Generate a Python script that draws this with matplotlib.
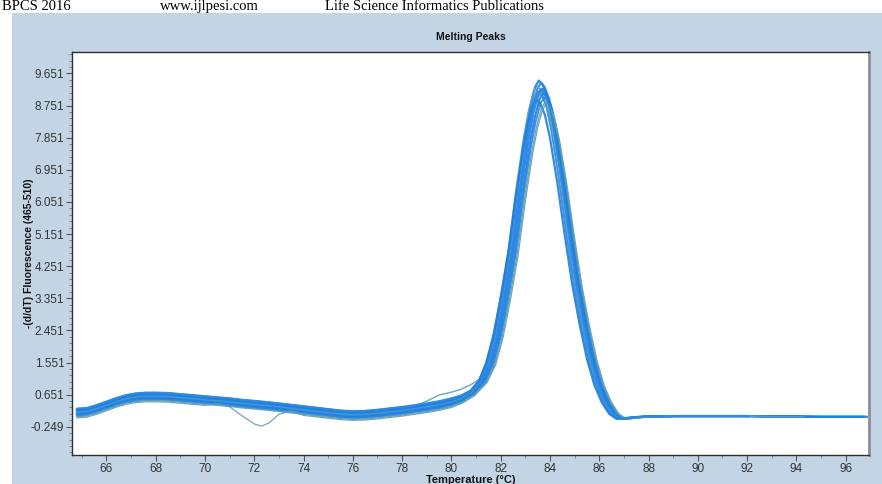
import numpy as np
import matplotlib
matplotlib.use("Agg")
import matplotlib.pyplot as plt
from matplotlib.ticker import FixedLocator, MultipleLocator

# ---------------- data ----------------
temps = [64.8, 65.2, 65.6, 66.0, 66.4, 66.8, 67.2, 67.6, 68.0, 68.5, 69.0, 69.5,
         70.0, 70.5, 71.0, 71.5, 72.0, 72.3, 72.6, 73.0, 73.5, 74.0, 74.5, 75.0,
         75.5, 76.0, 76.5, 77.0, 77.5, 78.0, 78.5, 79.0, 79.5, 80.0, 80.4, 80.8,
         81.2, 81.5, 81.8, 82.1, 82.4, 82.7, 83.0, 83.2, 83.4, 83.55, 83.7, 83.9,
         84.1, 84.4, 84.7, 85.0, 85.3, 85.6, 85.9, 86.2, 86.5, 86.8, 87.1, 87.5,
         88.0, 89.0, 90.0, 91.0, 92.0, 93.0, 94.0, 95.0, 96.0, 96.8]
base_curve = [0.16, 0.18, 0.26, 0.36, 0.46, 0.54, 0.59, 0.61, 0.61, 0.60, 0.57, 0.54,
              0.51, 0.48, 0.45, 0.41, 0.38, 0.36, 0.34, 0.31, 0.27, 0.23, 0.19, 0.15,
              0.11, 0.09, 0.10, 0.13, 0.17, 0.21, 0.26, 0.31, 0.37, 0.45, 0.55, 0.72,
              1.05, 1.55, 2.35, 3.45, 4.70, 6.30, 7.70, 8.45, 8.98, 9.15, 9.05, 8.70,
              8.05, 6.75, 5.25, 3.85, 2.70, 1.70, 0.95, 0.45, 0.12, -0.03, -0.01, 0.02,
              0.04, 0.05, 0.05, 0.05, 0.05, 0.04, 0.04, 0.03, 0.03, 0.03]
base_peak = 9.15

peak_heights = [9.45, 9.38, 9.30, 9.22, 9.15, 9.10, 9.05, 8.98, 8.92, 8.85, 8.80, 9.20]
temp_shifts = [0.00, 0.08, -0.08, 0.12, -0.04, 0.18, 0.04, 0.22, -0.10, 0.26, 0.30, 0.06]
premelt_offsets = [0.08, 0.00, 0.10, -0.04, 0.03, -0.07, 0.00, -0.10, 0.05, -0.13, -0.16, 0.10]
end_temps = [96.8, 96.8, 94.0, 92.0, 96.8, 94.0, 92.0, 92.0, 96.8, 92.0, 94.0, 92.0]

# curve with the dip near 72 °C
dip_curve_index = 10
dip_temps = [70.5, 71.0, 71.5, 72.0, 72.3, 72.6, 73.0, 73.5]
dip_values = [0.40, 0.31, 0.06, -0.17, -0.23, -0.14, 0.10, 0.20]

# curve with a shoulder near 79-80 °C
shoulder_curve_index = 2
shoulder_temps = [78.5, 79.0, 79.5, 80.0, 80.4, 80.8]
shoulder_values = [0.32, 0.47, 0.64, 0.72, 0.80, 0.92]

curve_colors = ['#1a7ee6', '#2485e3', '#5a9fb8', '#1a7ee6', '#3b8fd6', '#1a7ee6',
                '#4f98c6', '#2a86dc', '#1a7ee6', '#5c9cb0', '#60a0ae', '#2d89de']
curve_widths = [1.6, 1.5, 1.0, 1.6, 1.2, 1.6, 1.0, 1.3, 1.6, 1.0, 0.9, 1.4]

y_ticks = [-0.249, 0.651, 1.551, 2.451, 3.351, 4.251, 5.151, 6.051, 6.951, 7.851, 8.751, 9.651]
x_ticks = [66, 68, 70, 72, 74, 76, 78, 80, 82, 84, 86, 88, 90, 92, 94, 96]

# ---------------- figure ----------------
fig = plt.figure(figsize=(8.82, 4.84), dpi=100)
fig.patch.set_facecolor('white')
panel_col = '#c3d5e5'
panel = plt.Rectangle((12 / 882, 0), 1, (484 - 13) / 484,
                      transform=fig.transFigure, facecolor=panel_col,
                      edgecolor='none', zorder=-5)
fig.add_artist(panel)

# page header text
hdr_y = 1.0 - 10 / 484
fig.text(2 / 882, hdr_y, 'BPCS 2016', family='Liberation Serif', fontsize=10.5,
         ha='left', va='baseline', color='black', zorder=-4)
fig.text(160 / 882, hdr_y, 'www.ijlpesi.com', family='Liberation Serif',
         fontsize=10.5, ha='left', va='baseline', color='black', zorder=-4)
fig.text(325 / 882, hdr_y, 'Life Science Informatics Publications',
         family='Liberation Serif', fontsize=10.5, ha='left', va='baseline',
         color='black', zorder=-4)

ax = fig.add_axes([72 / 882, 1 - 455 / 484, (869 - 72) / 882, (455 - 52) / 484])
ax.set_zorder(2)
ax.set_facecolor('white')

T = np.array(temps)
B = np.array(base_curve)
w_pre = np.clip((81.4 - T) / 1.2, 0, 1)
for i in range(len(peak_heights)):
    y = B * (1 - w_pre) * peak_heights[i] / base_peak + B * w_pre + premelt_offsets[i] * w_pre
    if i == dip_curve_index:
        for t, v in zip(dip_temps, dip_values):
            y[temps.index(t)] = v
    if i == shoulder_curve_index:
        for t, v in zip(shoulder_temps, shoulder_values):
            y[temps.index(t)] = v
    x = T + temp_shifts[i] * (1 - w_pre)
    m = T <= end_temps[i] + 1e-9
    ax.plot(x[m], y[m], color=curve_colors[i], lw=curve_widths[i], alpha=0.9,
            solid_joinstyle='round')

ax.set_xlim(64.6, 96.95)
ax.set_ylim(-1.04, 10.25)
ax.yaxis.set_major_locator(FixedLocator(y_ticks))
ax.set_yticklabels(['%.3f' % v for v in y_ticks])
ax.yaxis.set_minor_locator(FixedLocator(np.arange(-0.969, 10.25, 0.18)))
ax.xaxis.set_major_locator(FixedLocator(x_ticks))
ax.set_xticklabels([str(v) for v in x_ticks])
ax.xaxis.set_minor_locator(MultipleLocator(1))

ax.tick_params(axis='both', which='major', direction='out', length=4, width=0.8,
               colors='#555555', labelcolor='#333333', labelsize=8.5, pad=1.5)
ax.tick_params(axis='both', which='minor', direction='out', length=2, width=0.6,
               colors='#777777')
for lab in ax.get_xticklabels() + ax.get_yticklabels():
    lab.set_family('Liberation Sans')

for s in ['left', 'bottom', 'top']:
    ax.spines[s].set_color('#303030')
    ax.spines[s].set_linewidth(1.0)
ax.spines['right'].set_color('#8a8f96')
ax.spines['right'].set_linewidth(2.0)

ax.set_title('Melting Peaks', family='Liberation Sans', fontweight='bold',
             fontsize=7.5, pad=9, color='#111111')
ax.set_xlabel('Temperature (°C)', family='Liberation Sans', fontweight='bold',
              fontsize=8, labelpad=0, color='#111111')
ax.set_ylabel('-(d/dT) Fluorescence (465-510)', family='Liberation Sans',
              fontweight='bold', fontsize=7.5, color='#111111')
ax.yaxis.set_label_coords(-38 / 797, 0.5)

fig.savefig('out.png', dpi=100)
